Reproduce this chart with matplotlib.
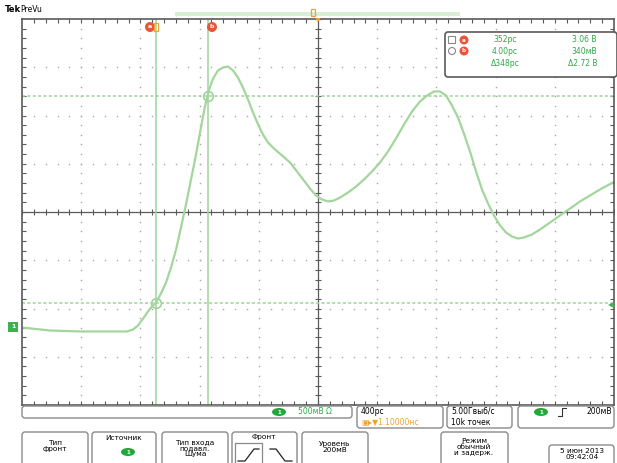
import numpy as np
import matplotlib
matplotlib.use("Agg")
from matplotlib import pyplot as plt
from matplotlib.patches import FancyBboxPatch, Circle, Ellipse, Rectangle, Polygon

# trace samples: time (ps, trigger at 0) and level (mV, screen centre at 0)
time_ps = [-2000, -1811, -1608, -1405, -1291, -1250, -1216, -1182, -1149, -1122,
           -1095, -1061, -1027, -993, -959, -926, -892, -858, -824, -791,
           -764, -736, -709, -676, -642, -608, -574, -541, -507, -473,
           -439, -405, -372, -338, -291, -243, -189, -142, -95, -54,
           -14, 27, 68, 108, 149, 203, 257, 311, 365, 419,
           473, 527, 581, 635, 689, 737, 784, 824, 865, 905,
           946, 986, 1027, 1068, 1108, 1149, 1189, 1230, 1270, 1311,
           1351, 1392, 1446, 1500, 1568, 1635, 1703, 1770, 1838, 1905,
           1993]
level_mv = [-1197, -1228, -1238, -1238, -1238, -1218, -1176, -1104, -1031, -979,
            -938, -845, -731, -575, -389, -161, 78, 337, 596, 876,
            1093, 1269, 1383, 1466, 1497, 1508, 1466, 1394, 1290, 1166,
            1031, 907, 803, 720, 648, 586, 513, 420, 326, 243,
            171, 130, 109, 119, 150, 202, 264, 337, 420, 513,
            627, 762, 907, 1041, 1145, 1207, 1249, 1249, 1207, 1104,
            979, 813, 627, 420, 233, 88, -36, -140, -212, -254,
            -275, -264, -233, -181, -109, -36, 36, 109, 171, 233,
            306]

# cursor positions
cursor_t = [-1095, -743]
cursor_v = [-938, 1207]

# readout texts
readout_rows = [["352рс", "3.06 В"], ["4.00рс", "340мВ"], ["Δ348рс", "Δ2.72 В"]]

ps_per_div = 400
mv_per_div = 500

trace_col = "#a3d69c"
cursor_col = "#9ed39a"
green_txt = "#2fa84a"
orange = "#f0a035"
red = "#e8553a"
frame = "#5a5a5a"

W, H = 617, 463
fig = plt.figure(figsize=(W / 100, H / 100), dpi=100)

# graticule area in pixels
L, R, T, B = 22, 614, 19, 405
ax = fig.add_axes([L / W, (H - B) / H, (R - L) / W, (B - T) / H])
ax.set_xlim(-5 * ps_per_div, 5 * ps_per_div)
ax.set_ylim(-4 * mv_per_div, 4 * mv_per_div)

# dotted grid
xmaj = [i * ps_per_div for i in range(-4, 5) if i != 0]
ymaj = [i * mv_per_div for i in range(-3, 4) if i != 0]
xmin = np.arange(-2000, 2001, ps_per_div / 5)
ymin = np.arange(-2000, 2001, mv_per_div / 5)
for x in xmaj:
    ax.plot([x] * len(ymin), ymin, ls="none", marker="s", ms=1.0, color="#a8a8a8", mew=0)
for y in ymaj:
    ax.plot(xmin, [y] * len(xmin), ls="none", marker="s", ms=1.0, color="#a8a8a8", mew=0)

# centre cross with ticks
ax.axhline(0, color=frame, lw=0.9)
ax.axvline(0, color=frame, lw=0.9)
ax.plot(xmin, np.zeros_like(xmin), ls="none", marker="|", ms=4, color=frame, mew=0.8)
ax.plot(np.zeros_like(ymin), ymin, ls="none", marker="_", ms=4, color=frame, mew=0.8)

for s in ax.spines.values():
    s.set_color(frame)
    s.set_linewidth(1.2)
ax.set_xticks(xmin[1:-1])
ax.set_yticks(ymin[1:-1])
ax.tick_params(direction="in", length=3, width=0.8, color=frame,
               top=True, right=True, labelbottom=False, labelleft=False)

# cursors
for t in cursor_t:
    ax.axvline(t, color=cursor_col, lw=1.1)
for v in cursor_v:
    ax.axhline(v, color=cursor_col, lw=1.1, ls=(0, (2, 1.5)))
ax.plot(cursor_t, [cursor_v[0], cursor_v[1]], ls="none", marker="o", ms=7,
        mfc="none", mec=cursor_col, mew=1.2)

ax.plot(time_ps, level_mv, color=trace_col, lw=1.6, solid_joinstyle="round")

# overlay for scope chrome, pixel coordinates
ov = fig.add_axes([0, 0, 1, 1], zorder=5)
ov.set_xlim(0, W)
ov.set_ylim(H, 0)
ov.axis("off")
ov.patch.set_alpha(0)

ov.text(5, 10, "Tek", fontsize=6, weight="bold", va="center")
ov.text(20, 10, "PreVu", fontsize=5.5, va="center")

# record view bar and trigger position
ov.add_patch(Rectangle((175, 12), 285, 4, color="#d9eed5", lw=0))
ov.add_patch(Rectangle((311, 9), 4, 7, fill=False, ec=orange, lw=0.9))
ov.add_patch(Polygon([[315, 18], [321, 18], [318, 22]], color=orange, lw=0))

# cursor handles
for cx, lab in [(150, "a"), (212, "b")]:
    ov.add_patch(Circle((cx, 27), 5, color=red, lw=0))
    ov.text(cx, 27, lab, fontsize=4.5, color="white", ha="center", va="center", weight="bold")
ov.add_patch(Rectangle((154, 23), 4, 8, fill=False, ec=orange, lw=0.9))

# cursor readout box
ov.add_patch(FancyBboxPatch((445, 32), 172, 45, boxstyle="round,pad=0,rounding_size=3",
                            fc="white", ec=frame, lw=1.2))
ov.add_patch(Rectangle((448, 36), 7, 7, fill=False, ec="#888", lw=0.8))
ov.add_patch(Circle((452, 51), 3.5, fill=False, ec="#888", lw=0.8))
for ry, lab in [(40, "a"), (51, "b")]:
    ov.add_patch(Circle((464, ry), 4.5, color=red, lw=0))
    ov.text(464, ry, lab, fontsize=4, color="white", ha="center", va="center", weight="bold")
for i, (tcol, vcol) in enumerate(readout_rows):
    yy = 40 + i * 11.5
    ov.text(505, yy, tcol, fontsize=5.5, color=green_txt, ha="center", va="center")
    ov.text(597, yy, vcol, fontsize=5.5, color=green_txt, ha="right", va="center")

# ground and trigger level markers
ov.add_patch(Rectangle((8, 322), 10, 10, color="#3db04f", lw=0))
ov.text(13, 327, "1", fontsize=4.5, color="white", ha="center", va="center", weight="bold")
ov.add_patch(Polygon([[608, 305], [614, 302], [614, 308]], color="#3db04f", lw=0))


def box(x0, y0, x1, y1, r=3):
    ov.add_patch(FancyBboxPatch((x0, y0), x1 - x0, y1 - y0,
                                boxstyle="round,pad=0,rounding_size=%s" % r,
                                fc="white", ec="#8a8a8a", lw=1.0))


def ch_badge(x, y):
    ov.add_patch(Ellipse((x, y), 14, 8, color="#22a83a", lw=0))
    ov.text(x, y, "1", fontsize=4, color="white", ha="center", va="center", weight="bold")


# status bar
box(22, 406, 352, 418)
ch_badge(279, 412)
ov.text(298, 412, "500мВ Ω", fontsize=5.5, color=green_txt, va="center")
box(357, 406, 443, 428)
ov.text(361, 411.5, "400рс", fontsize=5.5, va="center")
ov.text(361, 422.5, "▣▸▼1.10000нс", fontsize=5.5, color=orange, va="center")
box(447, 406, 512, 428)
ov.text(451, 411.5, "5.00Гвыб/с", fontsize=5.5, va="center")
ov.text(451, 422.5, "10k точек", fontsize=5.5, va="center")
box(518, 406, 614, 428)
ch_badge(541, 412)
ov.plot([558, 562, 562, 566], [416, 416, 408, 408], color="#333", lw=0.8)
ov.text(612, 412, "200мВ", fontsize=5.5, ha="right", va="center")

# soft buttons
box(22, 432, 88, 470)
ov.text(55, 446, "Тип\nфронт", fontsize=5.3, ha="center", va="center", linespacing=1.1)
box(92, 432, 156, 470)
ov.text(124, 438, "Источник", fontsize=5.3, ha="center", va="center")
ch_badge(128, 452)
box(162, 432, 228, 470)
ov.text(195, 448, "Тип входа\nподавл.\nШума", fontsize=5.3, ha="center", va="center",
        linespacing=1.05)
box(232, 432, 297, 470)
ov.text(264, 437.5, "Фронт", fontsize=5.3, ha="center", va="center")
ov.add_patch(Rectangle((235, 443), 27, 22, fill=False, ec="#8a8a8a", lw=0.9))
ov.plot([238, 245, 254, 259], [461, 461, 449, 449], color="#222", lw=0.9)
ov.plot([270, 276, 285, 292], [449, 449, 461, 461], color="#222", lw=0.9)
box(302, 432, 368, 470)
ov.text(335, 447, "Уровень\n200мВ", fontsize=5.3, ha="center", va="center", linespacing=1.1)
box(441, 432, 508, 470)
ov.text(474, 447, "Режим\nобычный\nи задерж.", fontsize=5.3, ha="center", va="center",
        linespacing=1.05)
box(549, 445, 614, 470)
ov.text(582, 454, "5 июн 2013\n09:42:04", fontsize=5.3, ha="center", va="center",
        linespacing=1.1)

fig.savefig("out.png", dpi=100)
